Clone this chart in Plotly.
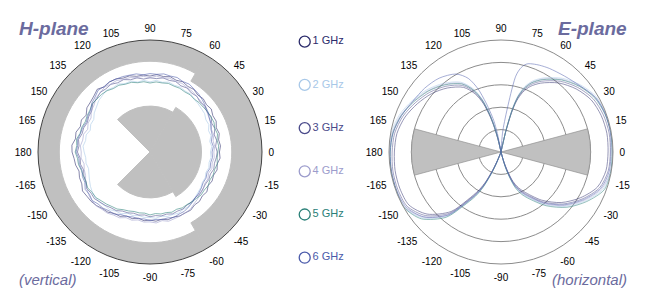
import plotly.graph_objects as go

# ---------------- data ----------------
SERIES = ["1 GHz", "2 GHz", "3 GHz", "4 GHz", "5 GHz", "6 GHz"]
COLORS = ["#2b2b6b", "#a8c8e8", "#4a4a8a", "#9c9ccc", "#2a8078", "#4a5aaa"]

ANGLE_TICKS = [0, 15, 30, 45, 60, 75, 90, 105, 120, 135, 150, 165, 180,
               195, 210, 225, 240, 255, 270, 285, 300, 315, 330, 345]
ANGLE_LABELS = ["0", "15", "30", "45", "60", "75", "90", "105", "120", "135", "150", "165", "180",
                "-165", "-150", "-135", "-120", "-105", "-90", "-75", "-60", "-45", "-30", "-15"]

# H-plane measured pattern (dB), every 5 degrees, 0..360
H_THETA = [0, 5, 10, 15, 20, 25, 30, 35, 40, 45, 50, 55,
           60, 65, 70, 75, 80, 85, 90, 95, 100, 105, 110, 115,
           120, 125, 130, 135, 140, 145, 150, 155, 160, 165, 170, 175,
           180, 185, 190, 195, 200, 205, 210, 215, 220, 225, 230, 235,
           240, 245, 250, 255, 260, 265, 270, 275, 280, 285, 290, 295,
           300, 305, 310, 315, 320, 325, 330, 335, 340, 345, 350, 355, 360]
H_1 = [-19.0, -18.4, -18.9, -18.0, -18.5, -17.4, -17.6, -16.6, -17.1, -16.4, -16.8, -15.9,
       -16.2, -15.4, -15.9, -15.2, -15.8, -15.3, -16.1, -15.5, -15.7, -14.8, -14.9, -14.0,
       -13.9, -14.5, -13.4, -14.6, -15.3, -15.6, -17.1, -16.2, -16.9, -15.8, -16.2, -15.0,
       -15.2, -16.0, -16.3, -17.2, -16.5, -16.4, -15.2, -15.6, -15.7, -16.2, -17.0, -17.2,
       -18.3, -18.3, -19.6, -19.2, -20.0, -19.2, -19.6, -19.0, -19.5, -18.7, -19.1, -18.5,
       -18.6, -18.3, -19.1, -18.8, -19.5, -19.0, -20.0, -19.4, -19.8, -19.0, -19.5, -18.6, -19.0]
H_2 = [-23.0, -22.3, -22.9, -21.8, -22.2, -21.0, -21.2, -20.2, -20.0, -19.6, -19.3, -18.4,
       -18.6, -18.0, -18.3, -17.7, -18.4, -17.9, -18.7, -17.9, -18.3, -17.2, -17.5, -16.5,
       -16.9, -16.2, -17.0, -17.6, -18.8, -19.6, -21.0, -20.8, -21.6, -20.5, -20.8, -20.0,
       -20.6, -21.2, -21.0, -21.6, -21.0, -20.2, -19.3, -18.6, -18.2, -18.2, -18.7, -18.6,
       -19.5, -19.6, -20.9, -20.6, -21.2, -20.7, -20.8, -20.3, -20.9, -20.2, -20.3, -19.9,
       -20.4, -20.1, -21.2, -21.4, -22.0, -22.3, -23.0, -22.8, -23.4, -22.8, -23.2, -22.6, -23.0]
H_3 = [-20.0, -20.6, -19.8, -20.3, -19.2, -19.6, -18.5, -18.9, -18.0, -18.4, -17.5, -17.8,
       -17.0, -17.4, -16.5, -16.9, -16.4, -17.1, -16.9, -17.3, -16.4, -16.6, -15.6, -15.9,
       -15.1, -15.6, -15.3, -16.4, -16.6, -18.2, -18.4, -19.1, -18.5, -18.6, -17.6, -18.2,
       -17.6, -18.7, -18.5, -19.3, -18.6, -18.6, -17.4, -17.9, -17.6, -18.4, -18.9, -19.6,
       -19.8, -20.9, -21.1, -21.7, -21.4, -21.8, -21.1, -21.5, -21.0, -21.3, -20.6, -20.9,
       -20.6, -21.1, -20.9, -21.3, -20.9, -21.2, -21.4, -21.0, -21.3, -20.5, -20.8, -20.3, -20.0]
H_4 = [-21.5, -21.0, -21.4, -20.5, -20.8, -19.8, -19.6, -18.9, -18.5, -17.9, -17.6, -17.0,
       -16.8, -16.2, -16.5, -15.9, -16.4, -16.0, -16.8, -16.1, -16.3, -15.6, -15.5, -14.8,
       -15.0, -14.6, -15.5, -15.9, -17.4, -18.0, -19.6, -19.5, -20.4, -19.3, -19.5, -18.8,
       -19.3, -19.1, -20.1, -19.6, -19.4, -18.2, -17.4, -16.6, -16.2, -16.0, -16.6, -16.7,
       -17.5, -17.6, -18.8, -18.5, -19.2, -18.6, -18.8, -18.2, -18.9, -18.0, -18.3, -18.4,
       -18.6, -18.7, -19.6, -20.1, -20.9, -21.0, -21.8, -21.5, -22.2, -21.4, -21.8, -21.2, -21.5]
H_5 = [-19.7, -19.2, -19.6, -18.8, -19.2, -18.5, -18.6, -18.6, -18.9, -18.9, -19.2, -18.8,
       -19.0, -18.6, -18.7, -18.3, -18.7, -18.6, -19.2, -18.5, -18.6, -17.8, -17.8, -17.1,
       -17.3, -16.6, -16.4, -16.5, -16.4, -17.3, -17.6, -18.1, -17.6, -17.7, -16.7, -17.2,
       -16.6, -17.5, -17.6, -18.3, -18.4, -18.4, -17.9, -18.5, -18.4, -19.2, -19.7, -20.3,
       -20.6, -21.6, -22.0, -22.5, -22.4, -22.6, -21.9, -22.4, -21.9, -22.0, -21.4, -21.8,
       -21.2, -21.3, -20.9, -20.7, -20.2, -20.4, -20.0, -20.5, -20.0, -20.1, -19.5, -19.9, -19.7]
H_6 = [-22.3, -21.6, -22.2, -21.2, -21.0, -20.1, -19.4, -18.5, -17.8, -17.0, -16.2, -15.7,
       -15.0, -15.3, -14.6, -14.9, -14.6, -15.2, -15.0, -15.4, -14.6, -14.5, -14.2, -14.1,
       -13.8, -14.3, -14.0, -15.3, -16.1, -17.6, -18.0, -18.6, -18.0, -17.9, -17.2, -17.6,
       -17.0, -18.1, -18.0, -18.6, -17.9, -17.9, -16.6, -17.0, -16.3, -17.2, -17.3, -18.0,
       -18.0, -19.2, -19.4, -20.0, -19.8, -20.0, -19.4, -19.8, -19.4, -19.5, -18.9, -19.4,
       -19.4, -20.0, -20.6, -21.3, -21.5, -22.0, -22.6, -22.4, -22.9, -22.2, -22.5, -22.0, -22.3]

# H-plane gray limit masks (angular sectors, dB)
H_MASK_THETA = [0, 180, 0, 97.5, 262.5]
H_MASK_WIDTH = [120, 240, 120, 75, 75]
H_MASK_FROM = [-13.5, -9.5, -50, -50, -50]
H_MASK_TO = [0, 0, -27, -29.5, -29.5]

# E-plane measured pattern (dB)
E_THETA = [0, 10, 20, 30, 40, 50, 60, 66, 70, 73, 75, 77, 79, 85, 90, 95, 101, 103, 105, 107, 110, 114,
           120, 130, 140, 150, 160, 170, 180, 190, 200, 210, 220, 230, 235, 240, 243, 246, 248, 250, 270,
           284, 286, 289, 292, 296, 300, 310, 320, 330, 340, 350, 360]
E_1 = [-2.2, -2.0, -2.4, -3.5, -6.2, -9.8, -14.5, -18.0, -21.6, -26.1, -31.9, -41.7, -50, -50, -50, -50,
       -50, -45.3, -39.0, -33.6, -27.0, -21.6, -16.7, -12.7, -9.5, -6.9, -4.4, -2.8, -2.4, -2.0, -2.0, -2.6,
       -6.9, -15.3, -23.8, -30.5, -35.4, -42.6, -47.9, -50, -50, -50, -46.1, -40.8, -35.9, -32.3, -29.6,
       -22.0, -14.9, -9.1, -4.2, -2.4, -2.2]
E_2 = [-0.2, -0.2, -0.2, -0.8, -3.5, -7.1, -11.8, -15.3, -18.9, -23.4, -29.2, -39.0, -50, -50, -50, -50,
       -50, -42.6, -36.3, -30.9, -24.3, -18.9, -14.0, -10.0, -6.8, -4.2, -1.7, -0.2, -0.2, -0.2, -0.2, -0.2,
       -4.2, -12.6, -21.1, -27.8, -32.7, -39.9, -45.2, -50, -50, -50, -43.4, -38.1, -33.2, -29.6, -26.9,
       -19.3, -12.2, -6.4, -1.5, -0.2, -0.2]
E_3 = [-1.2, -1.0, -1.4, -2.5, -5.2, -8.8, -13.5, -17.0, -20.6, -25.1, -30.9, -40.7, -50, -50, -50, -50,
       -50, -44.3, -38.0, -32.6, -26.0, -20.6, -15.7, -11.7, -8.5, -5.9, -3.4, -1.8, -1.4, -1.0, -1.0, -1.6,
       -5.9, -14.3, -22.8, -29.5, -34.4, -41.6, -46.9, -50, -50, -50, -45.1, -39.8, -34.9, -31.3, -28.6,
       -21.0, -13.9, -8.1, -3.2, -1.4, -1.2]
E_4 = [-0.2, -0.2, -0.3, -1.4, -4.1, -7.7, -12.4, -15.9, -19.5, -24.0, -29.8, -39.6, -50, -50, -50, -50,
       -50, -43.2, -36.9, -31.5, -24.9, -19.5, -14.6, -10.6, -7.4, -4.8, -2.3, -0.7, -0.3, -0.2, -0.2, -0.5,
       -4.8, -13.2, -21.7, -28.4, -33.3, -40.5, -45.8, -50, -50, -50, -44.0, -38.7, -33.8, -30.2, -27.5,
       -19.9, -12.8, -7.0, -2.1, -0.3, -0.2]
E_5 = [-0.4, -0.2, -0.6, -1.7, -4.4, -8.0, -12.7, -16.2, -19.8, -24.3, -30.1, -39.9, -50, -50, -50, -50,
       -50, -43.5, -37.2, -31.8, -25.2, -19.8, -14.9, -10.9, -7.7, -5.1, -2.6, -1.0, -0.6, -0.2, -0.2, -0.2,
       -3.6, -12.0, -20.5, -27.2, -32.1, -39.3, -44.6, -50, -50, -50, -42.8, -37.5, -32.6, -29.0, -26.3,
       -18.7, -11.6, -5.8, -0.9, -0.2, -0.4]
E_6 = [-0.9, -0.45, -0.45, -1.3, -4.0, -5.8, -6.9, -7.6, -8.2, -8.8, -9.8, -11.8, -15.5, -40.2, -50, -50,
       -41.5, -35.5, -31.5, -27.0, -20.0, -14.0, -9.8, -7.0, -5.6, -4.6, -2.7, -1.1, -0.5, -0.4, -0.4, -1.0,
       -5.0, -13.4, -22.0, -28.8, -33.7, -41.0, -46.3, -50, -50, -50, -44.5, -39.2, -34.3, -30.7, -28.0,
       -20.4, -13.3, -7.5, -2.6, -0.9, -0.9]

# E-plane gray sectors
E_MASK_THETA = [0, 180]
E_MASK_WIDTH = [30, 30]
E_MASK_FROM = [-50, -50]
E_MASK_TO = [-10, -10]

R_RANGE = [-50, 0]

H_DATA = [H_1, H_2, H_3, H_4, H_5, H_6]
E_DATA = [E_1, E_2, E_3, E_4, E_5, E_6]

# ---------------- figure ----------------
FONT = "Liberation Sans, Arial, sans-serif"
TITLE_COLOR = "#6b6b9e"
GRAY = "#c0c0c0"

fig = go.Figure()

fig.add_trace(go.Barpolar(
    theta=H_MASK_THETA, width=H_MASK_WIDTH, base=H_MASK_FROM,
    r=[t - f for f, t in zip(H_MASK_FROM, H_MASK_TO)],
    marker=dict(color=GRAY, line=dict(width=1, color=GRAY)),
    subplot="polar", showlegend=False, hoverinfo="skip"))

fig.add_trace(go.Barpolar(
    theta=E_MASK_THETA, width=E_MASK_WIDTH, base=E_MASK_FROM,
    r=[t - f for f, t in zip(E_MASK_FROM, E_MASK_TO)],
    marker=dict(color=GRAY, line=dict(width=0.6, color="#8a8a8a")),
    subplot="polar2", showlegend=False, hoverinfo="skip"))

for name, col, vals in zip(SERIES, COLORS, H_DATA):
    fig.add_trace(go.Scatterpolar(
        r=vals, theta=H_THETA, mode="lines", name=name,
        line=dict(color=col, width=0.7), opacity=0.8,
        subplot="polar", showlegend=False))

for name, col, vals in zip(SERIES, COLORS, E_DATA):
    fig.add_trace(go.Scatterpolar(
        r=vals, theta=E_THETA, mode="lines", name=name,
        line=dict(color=col, width=0.7, shape="spline", smoothing=0.8), opacity=0.7,
        subplot="polar2", showlegend=False))

# legend column
fig.add_trace(go.Scatter(
    x=[0.15] * len(SERIES), y=list(range(len(SERIES))),
    mode="markers+text", text=SERIES, textposition="middle right",
    marker=dict(symbol="circle-open", size=11, color=COLORS,
                line=dict(width=1.3, color=COLORS)),
    textfont=dict(family=FONT, size=11, color=COLORS),
    xaxis="x", yaxis="y", showlegend=False, hoverinfo="skip", cliponaxis=False))


def angular(linecolor):
    return dict(rotation=0, direction="counterclockwise", tickmode="array",
                tickvals=ANGLE_TICKS, ticktext=ANGLE_LABELS, showgrid=False,
                ticks="outside", ticklen=4, tickcolor="rgba(0,0,0,0)",
                showline=True, linecolor=linecolor, linewidth=1,
                tickfont=dict(family=FONT, size=10, color="black"))


fig.update_layout(
    template="none",
    width=649, height=301,
    margin=dict(l=0, r=0, t=0, b=0),
    paper_bgcolor="white", plot_bgcolor="rgba(0,0,0,0)",
    showlegend=False,
    polar=dict(
        domain=dict(x=[38 / 649, 262 / 649], y=[37 / 301, 261 / 301]),
        bgcolor="white", barmode="overlay",
        radialaxis=dict(range=R_RANGE, showgrid=False, showticklabels=False,
                        showline=False, ticks=""),
        angularaxis=angular("#444444")),
    polar2=dict(
        domain=dict(x=[389 / 649, 613 / 649], y=[37 / 301, 261 / 301]),
        bgcolor="white", barmode="overlay",
        radialaxis=dict(range=R_RANGE, showgrid=True, gridcolor="#8c8c8c", gridwidth=0.8,
                        tick0=-50, dtick=10, showticklabels=False, showline=False, ticks=""),
        angularaxis=angular("#8c8c8c")),
    xaxis=dict(domain=[0.45, 0.58], range=[0, 1], visible=False, fixedrange=True),
    yaxis=dict(domain=[0, 1], range=[6.002, -0.965], visible=False, fixedrange=True),
    annotations=[
        dict(text="H-plane", x=17 / 649, y=(301 - 28) / 301, xref="paper", yref="paper",
             xanchor="left", yanchor="middle", showarrow=False,
             font=dict(family=FONT, size=19, color=TITLE_COLOR, weight="bold", style="italic")),
        dict(text="(vertical)", x=17 / 649, y=(301 - 279) / 301, xref="paper", yref="paper",
             xanchor="left", yanchor="middle", showarrow=False,
             font=dict(family=FONT, size=15, color=TITLE_COLOR, style="italic")),
        dict(text="E-plane", x=629 / 649, y=(301 - 28) / 301, xref="paper", yref="paper",
             xanchor="right", yanchor="middle", showarrow=False,
             font=dict(family=FONT, size=19, color=TITLE_COLOR, weight="bold", style="italic")),
        dict(text="(horizontal)", x=629 / 649, y=(301 - 279) / 301, xref="paper", yref="paper",
             xanchor="right", yanchor="middle", showarrow=False,
             font=dict(family=FONT, size=15, color=TITLE_COLOR, style="italic")),
    ],
)

fig.write_html("out.html")
